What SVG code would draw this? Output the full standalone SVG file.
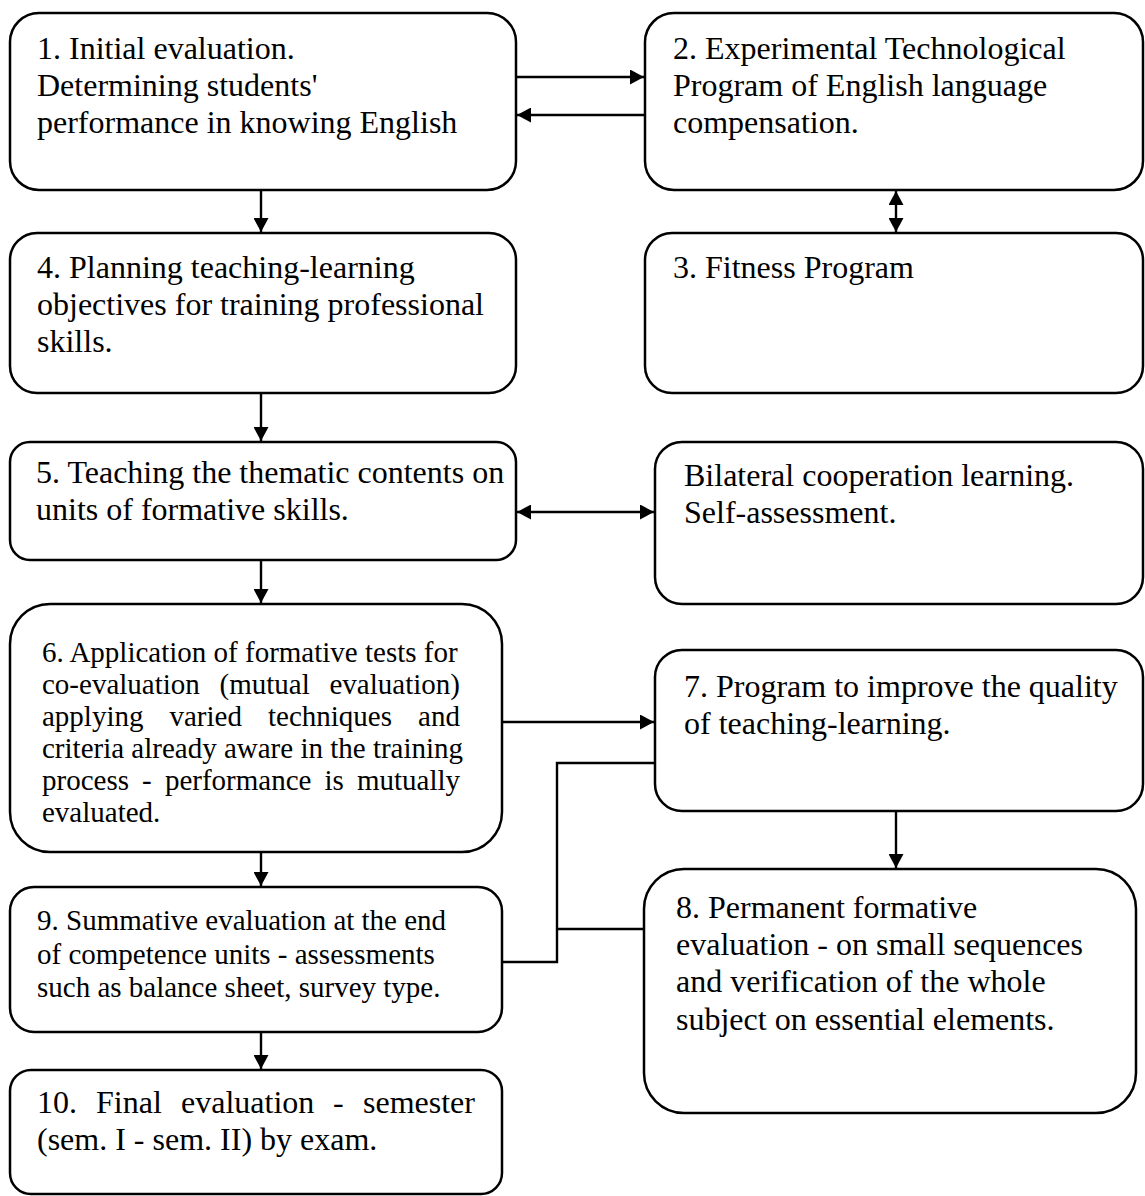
<svg xmlns="http://www.w3.org/2000/svg" width="1145" height="1196" viewBox="0 0 1145 1196">
<style>
.box{fill:#fff;stroke:#000;stroke-width:2.5}
.t{font-family:"Liberation Serif","Times New Roman",serif;font-size:32px;fill:#000}
.s{font-size:29px}
.c{fill:none;stroke:#000;stroke-width:2.4}
</style>
<defs>
<marker id="ah" markerUnits="userSpaceOnUse" markerWidth="15" markerHeight="15" refX="14" refY="7.5" orient="auto-start-reverse">
<path d="M0,0 L14,7.5 L0,15 z" fill="#000"/>
</marker>
</defs>
<rect width="1145" height="1196" fill="#fff"/>
<g id="connectors">
<line class="c" x1="516" y1="77" x2="644" y2="77" marker-end="url(#ah)"/>
<line class="c" x1="645" y1="115" x2="517" y2="115" marker-end="url(#ah)"/>
<line class="c" x1="261" y1="190" x2="261" y2="232" marker-end="url(#ah)"/>
<line class="c" x1="896" y1="191" x2="896" y2="232" marker-start="url(#ah)" marker-end="url(#ah)"/>
<line class="c" x1="261" y1="393" x2="261" y2="441" marker-end="url(#ah)"/>
<line class="c" x1="517" y1="512" x2="654" y2="512" marker-start="url(#ah)" marker-end="url(#ah)"/>
<line class="c" x1="261" y1="560" x2="261" y2="603" marker-end="url(#ah)"/>
<line class="c" x1="502" y1="722" x2="654" y2="722" marker-end="url(#ah)"/>
<line class="c" x1="261" y1="852" x2="261" y2="886" marker-end="url(#ah)"/>
<line class="c" x1="896" y1="811" x2="896" y2="868" marker-end="url(#ah)"/>
<line class="c" x1="261" y1="1032" x2="261" y2="1069" marker-end="url(#ah)"/>
<polyline class="c" points="655,763 557,763 557,962 502,962"/>
<line class="c" x1="557" y1="929" x2="644" y2="929"/>
</g>
<g id="n1">
<rect class="box" x="10" y="13" width="506" height="177" rx="29" ry="29"/>
<text class="t" x="37" y="59">1. Initial evaluation.</text>
<text class="t" x="37" y="96">Determining students'</text>
<text class="t" x="37" y="133">performance in knowing English</text>
</g>
<g id="n2">
<rect class="box" x="645" y="13" width="498" height="177" rx="29" ry="29"/>
<text class="t" x="673" y="59">2. Experimental Technological</text>
<text class="t" x="673" y="96">Program of English language</text>
<text class="t" x="673" y="133">compensation.</text>
</g>
<g id="n3">
<rect class="box" x="645" y="233" width="498" height="160" rx="27" ry="27"/>
<text class="t" x="673" y="278">3. Fitness Program</text>
</g>
<g id="n4">
<rect class="box" x="10" y="233" width="506" height="160" rx="27" ry="27"/>
<text class="t" x="37" y="278">4. Planning teaching-learning</text>
<text class="t" x="37" y="315">objectives for training professional</text>
<text class="t" x="37" y="352">skills.</text>
</g>
<g id="n5">
<rect class="box" x="10" y="442" width="506" height="118" rx="20" ry="20"/>
<text class="t" x="36" y="483">5. Teaching the thematic contents on</text>
<text class="t" x="36" y="520">units of formative skills.</text>
</g>
<g id="nB">
<rect class="box" x="655" y="442" width="488" height="162" rx="27" ry="27"/>
<text class="t" x="684" y="486">Bilateral cooperation learning.</text>
<text class="t" x="684" y="523">Self-assessment.</text>
</g>
<g id="n6">
<rect class="box" x="10" y="604" width="492" height="248" rx="40" ry="40"/>
<text class="t s" x="42" y="662">6. Application of formative tests for</text>
<text class="t s" y="694"><tspan x="42">co-evaluation</tspan><tspan x="219.6">(mutual</tspan><tspan x="329.5">evaluation)</tspan></text>
<text class="t s" y="726"><tspan x="42">applying</tspan><tspan x="169.5">varied</tspan><tspan x="268">techniques</tspan><tspan x="418.1">and</tspan></text>
<text class="t s" x="42" y="758">criteria already aware in the training</text>
<text class="t s" y="790"><tspan x="42">process</tspan><tspan x="142.1">-</tspan><tspan x="164.9">performance</tspan><tspan x="324.5">is</tspan><tspan x="356.9">mutually</tspan></text>
<text class="t s" x="42" y="822">evaluated.</text>
</g>
<g id="n7">
<rect class="box" x="655" y="650" width="488" height="161" rx="27" ry="27"/>
<text class="t" x="684" y="697">7. Program to improve the quality</text>
<text class="t" x="684" y="734">of teaching-learning.</text>
</g>
<g id="n9">
<rect class="box" x="10" y="887" width="492" height="145" rx="24" ry="24"/>
<text class="t s" x="37" y="930">9. Summative evaluation at the end</text>
<text class="t s" x="37" y="963.5">of competence units - assessments</text>
<text class="t s" x="37" y="997">such as balance sheet, survey type.</text>
</g>
<g id="n8">
<rect class="box" x="644" y="869" width="492" height="244" rx="40" ry="40"/>
<text class="t" x="676" y="918">8. Permanent formative</text>
<text class="t" x="676" y="955">evaluation - on small sequences</text>
<text class="t" x="676" y="992">and verification of the whole</text>
<text class="t" x="676" y="1030">subject on essential elements.</text>
</g>
<g id="n10">
<rect class="box" x="10" y="1070" width="492" height="124" rx="21" ry="21"/>
<text class="t" y="1113"><tspan x="37">10.</tspan><tspan x="96">Final</tspan><tspan x="181">evaluation</tspan><tspan x="333">-</tspan><tspan x="363">semester</tspan></text>
<text class="t" x="37" y="1150">(sem. I - sem. II) by exam.</text>
</g>
</svg>
